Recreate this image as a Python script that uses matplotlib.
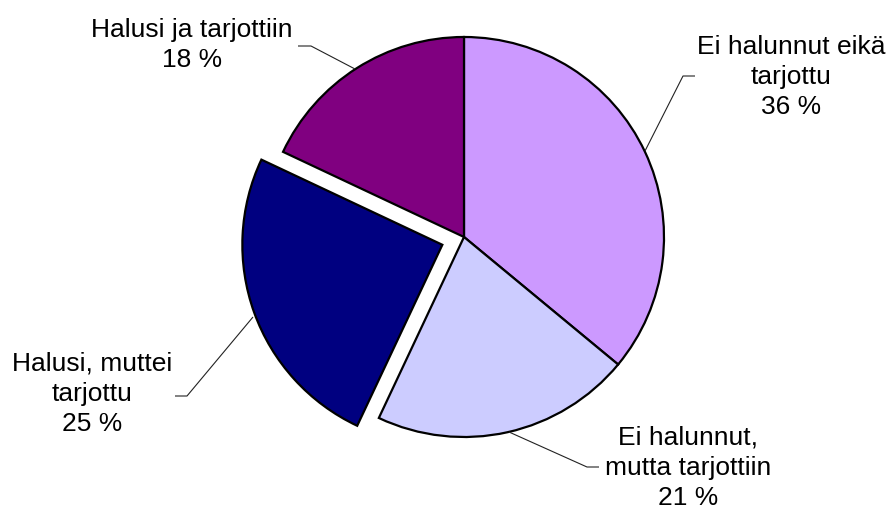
import matplotlib
matplotlib.use("Agg")
import matplotlib.pyplot as plt

plt.rcParams['font.family'] = ['Liberation Sans', 'DejaVu Sans']

categories = ["Ei halunnut eikä\ntarjottu", "Ei halunnut,\nmutta tarjottiin",
              "Halusi, muttei\ntarjottu", "Halusi ja tarjottiin"]
values = [36, 21, 25, 18]
colors = ["#CC99FF", "#CCCCFF", "#000080", "#800080"]
explode = [0, 0, 0.115, 0]

W, H = 890, 509
CX, CY, R = 464, 237, 200

def px(x, y):
    return ((x - CX) / R, (CY - y) / R)

fig = plt.figure(figsize=(W / 100, H / 100), dpi=100)
ax = fig.add_axes([0, 0, 1, 1])
ax.pie(values, startangle=90, counterclock=False, explode=explode, colors=colors,
       radius=1, wedgeprops=dict(edgecolor='black', linewidth=1.6))
ax.set_xlim(px(0, 0)[0], px(W, 0)[0])
ax.set_ylim(px(0, H)[1], px(0, 0)[1])
ax.set_aspect('equal')
ax.axis('off')

label_pos = [(791, 77), (688, 468), (92, 394), (192, 45)]
leaders = [
    [(645, 151), (683, 76), (695, 76)],
    [(509, 432), (587, 467), (599, 467)],
    [(253, 317), (187, 396), (175, 396)],
    [(355, 69), (311, 46), (298, 46)],
]
for cat, v, (lx, ly), pts in zip(categories, values, label_pos, leaders):
    x, y = px(lx, ly)
    ax.text(x, y, f"{cat}\n{v} %", ha='center', va='center', fontsize=19,
            linespacing=1.32, color='black')
    xs = [px(a, b)[0] for a, b in pts]
    ys = [px(a, b)[1] for a, b in pts]
    ax.plot(xs, ys, color='#222222', lw=0.8, solid_capstyle='butt')

fig.savefig("out.png", dpi=100)
